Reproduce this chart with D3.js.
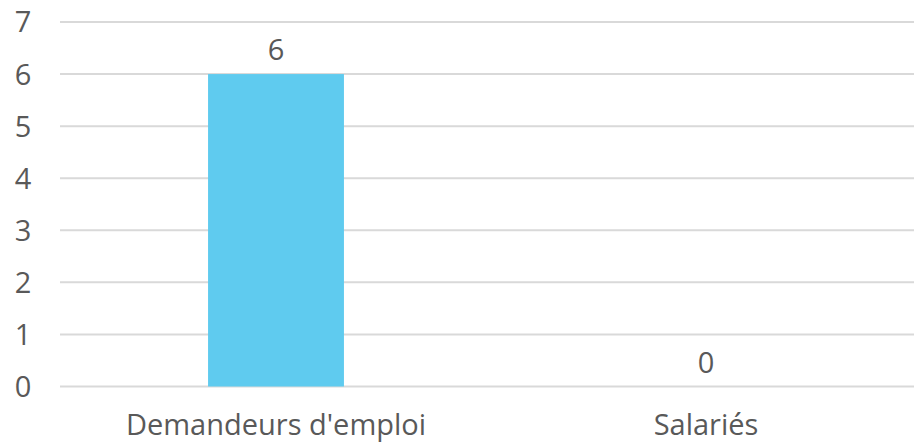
<!DOCTYPE html>
<html>
<head>
<meta charset="utf-8">
<script src="https://cdn.jsdelivr.net/npm/d3@7"></script>
<style>
  html, body { margin: 0; padding: 0; background: #fff; }
  svg { display: block; }
</style>
</head>
<body>
<div id="chart"></div>
<script>
// Données
const categories = ["Demandeurs d'emploi", "Salariés"];
const values = [6, 0];
const yTicks = [0, 1, 2, 3, 4, 5, 6, 7];

const W = 914, H = 443;
const FONT = "'Open Sans', sans-serif";
const TEXT = '#595959';
const FS = '29px';

const svg = d3.select('#chart').append('svg')
  .attr('width', W).attr('height', H);

const x = d3.scaleBand()
  .domain(categories)
  .range([61, 921])
  .paddingInner(0.684)
  .paddingOuter(0.342);

const y = d3.scaleLinear()
  .domain([0, 7])
  .range([386.5, 22]);

// Gridlines
svg.append('g')
  .selectAll('line')
  .data(yTicks)
  .enter()
  .append('line')
  .attr('x1', 60).attr('x2', W)
  .attr('y1', d => y(d)).attr('y2', d => y(d))
  .attr('stroke', '#d9d9d9')
  .attr('stroke-width', 2);

// Y tick labels
svg.append('g')
  .selectAll('text')
  .data(yTicks)
  .enter()
  .append('text')
  .attr('x', 23).attr('y', d => y(d))
  .attr('dy', '0.36em')
  .attr('text-anchor', 'middle')
  .style('font-family', FONT)
  .style('font-size', FS)
  .style('fill', TEXT)
  .text(d => d);

// Bars
svg.append('g')
  .selectAll('rect')
  .data(values)
  .enter()
  .append('rect')
  .attr('x', (d, i) => x(categories[i]))
  .attr('y', d => y(d))
  .attr('width', x.bandwidth())
  .attr('height', d => y(0) - y(d))
  .attr('fill', '#5fcbef');

// Value labels
svg.append('g')
  .selectAll('text')
  .data(values)
  .enter()
  .append('text')
  .attr('x', (d, i) => x(categories[i]) + x.bandwidth() / 2)
  .attr('y', d => y(d) - 14)
  .attr('text-anchor', 'middle')
  .style('font-family', FONT)
  .style('font-size', FS)
  .style('fill', TEXT)
  .text(d => d);

// Category labels
svg.append('g')
  .selectAll('text')
  .data(categories)
  .enter()
  .append('text')
  .attr('x', d => x(d) + x.bandwidth() / 2)
  .attr('y', 435)
  .attr('text-anchor', 'middle')
  .style('font-family', FONT)
  .style('font-size', FS)
  .style('fill', TEXT)
  .text(d => d);
</script>
</body>
</html>
